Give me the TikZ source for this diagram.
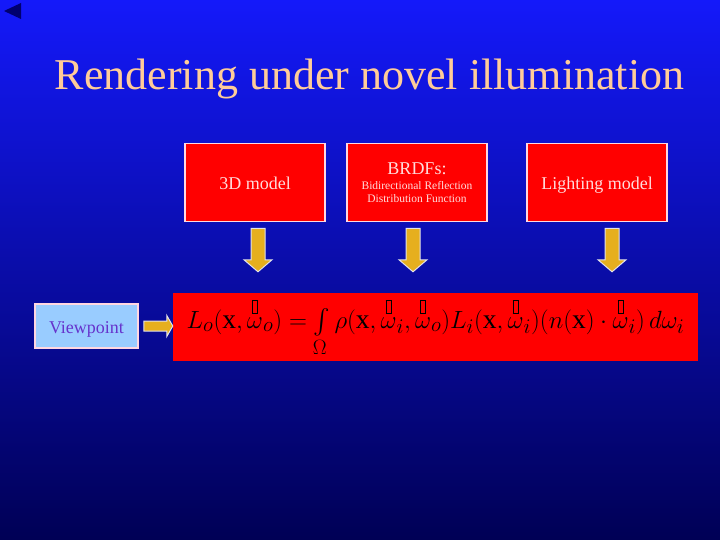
\documentclass[tikz,border=0pt]{standalone}
\usepackage{amsmath}
\usepackage{fontspec}
\setmainfont{Liberation Serif}
\usetikzlibrary{calc}
\definecolor{bgtop}{RGB}{20,25,250}
\definecolor{bgbot}{RGB}{0,0,85}
\definecolor{titlec}{RGB}{255,204,153}
\definecolor{boxred}{RGB}{255,0,0}
\definecolor{boxline}{RGB}{255,215,225}
\definecolor{boxtext}{RGB}{255,220,220}
\definecolor{arrgold}{RGB}{230,175,30}
\definecolor{arrline}{RGB}{225,225,235}
\definecolor{vpfill}{RGB}{153,204,255}
\definecolor{vptext}{RGB}{102,51,204}
\definecolor{navyc}{RGB}{0,0,110}
\newcommand\tofubox{{\setlength{\fboxsep}{0pt}\setlength{\fboxrule}{0.7pt}\fbox{\rule{0pt}{12pt}\hspace{4.5pt}}}}
\newcommand\vomega{\overset{\mbox{\tofubox}}{\omega}}
\begin{document}
\begin{tikzpicture}[x=1pt,y=-1pt,
  inbox/.style={draw=boxline, line width=1.6pt, fill=boxred, text=boxtext,
    minimum width=140pt, minimum height=78pt, inner sep=0pt, align=center,
    font=\fontsize{18}{21}\selectfont},
  blockdown/.style={draw=arrline, line width=1pt, fill=arrgold,
    to path={let \p1=(\tikztostart), \p2=(\tikztotarget) in
      (\x1-7pt,\y1) -- (\x1+7pt,\y1) -- (\x1+7pt,\y2+12pt) -- (\x1+14pt,\y2+12pt)
      -- (\x1,\y2) -- (\x1-14pt,\y2+12pt) -- (\x1-7pt,\y2+12pt) -- cycle}},
  blockright/.style={draw=arrline, line width=1pt, fill=arrgold,
    to path={let \p1=(\tikztostart), \p2=(\tikztotarget) in
      (\x1,\y1+5pt) -- (\x2-6pt,\y1+5pt) -- (\x2-6pt,\y1+10.5pt) -- (\x2,\y1)
      -- (\x2-6pt,\y1-10.5pt) -- (\x2-6pt,\y1-5pt) -- (\x1,\y1-5pt) -- cycle}}
]
\useasboundingbox (0,0) rectangle (720,540);
\shade[top color=bgtop, bottom color=bgbot] (0,0) rectangle (720,540);
\fill[navyc] (21,3) -- (21,19) -- (4,11) -- cycle;

\node[text=titlec, font=\fontsize{44}{48}\selectfont, anchor=base] (title) at (369.5,90)
  {Rendering under novel illumination};

\node[inbox, text height=15pt, text depth=0pt] (model3d) at (255,182.5) {3D model};
\node[inbox] (brdf) at (417,182.5)
  {BRDFs:\\[-6pt]
   \fontsize{11.5}{13}\selectfont Bidirectional Reflection\\[-8.5pt]
   \fontsize{11.5}{13}\selectfont Distribution Function};
\node[inbox, text height=15pt, text depth=0pt] (light) at (597,182.5) {Lighting model};

\node[draw=boxline, line width=1.6pt, fill=vpfill, text=vptext,
  minimum width=103pt, minimum height=44pt, inner sep=0pt,
  text height=15pt, text depth=1pt,
  font=\fontsize{18}{21}\selectfont] (view) at (86.5,326) {Viewpoint};

\node[fill=boxred, minimum width=525pt, minimum height=68pt, inner sep=0pt,
  font=\fontsize{27.5}{30}\selectfont] (eq) at (435.5,327)
  {$L_o(\mathrm{x},\vomega_o) = \int\limits_{\Omega} \rho(\mathrm{x},\vomega_i,\vomega_o)
    L_i(\mathrm{x},\vomega_i)(n(\mathrm{x})\cdot\vomega_i)\,d\omega_i$};

\path[blockdown] ([xshift=3pt,yshift=-6pt]model3d.south) to ([xshift=3pt,yshift=21pt]model3d.south |- eq.north);
\path[blockdown] ([xshift=-4pt,yshift=-6pt]brdf.south) to ([xshift=-4pt,yshift=21pt]brdf.south |- eq.north);
\path[blockdown] ([xshift=15pt,yshift=-6pt]light.south) to ([xshift=15pt,yshift=21pt]light.south |- eq.north);
\path[blockright] ([xshift=5pt]view.east) to (eq.west |- view.east);
\end{tikzpicture}
\end{document}
